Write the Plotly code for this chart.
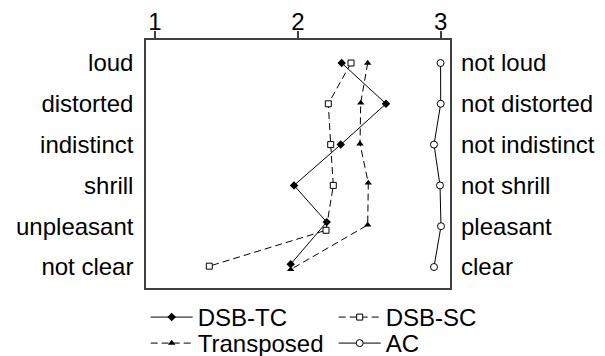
import plotly.graph_objects as go

left_labels = ["loud", "distorted", "indistinct", "shrill", "unpleasant", "not clear"]
right_labels = ["not loud", "not distorted", "not indistinct", "not shrill", "pleasant", "clear"]
x_ticks = [1, 2, 3]

dsb_tc_x = [2.307, 2.617, 2.300, 1.973, 2.202, 1.950]
dsb_tc_y = [0, 1, 2, 3, 3.9, 4.93]
dsb_sc_x = [2.372, 2.213, 2.230, 2.248, 2.197, 1.380]
dsb_sc_y = [0, 1, 2, 3, 4.1, 4.98]
trans_x = [2.489, 2.440, 2.435, 2.493, 2.489, 1.950]
trans_y = [0, 0.98, 1.98, 2.94, 3.97, 5.06]
ac_x = [2.999, 3.000, 2.953, 2.995, 3.002, 2.953]
ac_y = [0, 1, 2, 3, 4.0, 5.0]

FONT = "Liberation Sans, Arial, sans-serif"
FS = 24
line_kw = dict(color="black", width=1)
DASH = "7px,4px"

fig = go.Figure()
fig.add_trace(go.Scatter(x=dsb_tc_x, y=dsb_tc_y, name="DSB-TC", mode="lines+markers",
                         line=dict(**line_kw), legend="legend",
                         marker=dict(symbol="diamond", size=6.5, color="black")))
fig.add_trace(go.Scatter(x=dsb_sc_x, y=dsb_sc_y, name="DSB-SC", mode="lines+markers",
                         line=dict(dash=DASH, **line_kw), legend="legend",
                         marker=dict(symbol="square", size=6, color="white",
                                     line=dict(color="black", width=1))))
fig.add_trace(go.Scatter(x=trans_x, y=trans_y, name="Transposed", mode="lines+markers",
                         line=dict(dash=DASH, **line_kw), legend="legend2",
                         marker=dict(symbol="triangle-up", size=6.5, color="black")))
fig.add_trace(go.Scatter(x=ac_x, y=ac_y, name="AC", mode="lines+markers",
                         line=dict(**line_kw), legend="legend2", yaxis="y2",
                         marker=dict(symbol="circle", size=7, color="white",
                                     line=dict(color="black", width=1))))

yrange = [5.515, -0.564]
frame = "#404040"
leg_common = dict(orientation="h", xref="paper", x=-0.001, xanchor="left",
                  yref="paper", yanchor="top", entrywidth=131,
                  itemwidth=42, font=dict(size=FS),
                  bgcolor="rgba(0,0,0,0)", tracegroupgap=0)
fig.update_layout(
    template="none",
    width=605, height=356,
    margin=dict(l=146, r=155, t=40, b=68, autoexpand=False),
    paper_bgcolor="white", plot_bgcolor="white",
    font=dict(family=FONT, size=FS, color="black"),
    xaxis=dict(range=[0.937, 3.065], side="top", tickvals=x_ticks,
               ticktext=[str(v) for v in x_ticks], automargin=False,
               ticks="outside", ticklen=7, tickwidth=1.5, tickcolor=frame,
               ticklabelstandoff=-8,
               showgrid=False, zeroline=False, showline=True, mirror=True,
               linecolor=frame, linewidth=1.5, tickfont=dict(size=FS)),
    yaxis=dict(range=yrange, tickvals=list(range(6)), ticktext=left_labels,
               ticks="", showgrid=False, zeroline=False, showline=True, mirror=True,
               linecolor=frame, linewidth=1.5, automargin=False, ticklabelstandoff=6),
    yaxis2=dict(range=yrange, overlaying="y", side="right", tickvals=list(range(6)),
                ticktext=right_labels, ticks="", showgrid=False, zeroline=False,
                showline=False, automargin=False, ticklabelstandoff=10),
    showlegend=True,
    legend=dict(y=-0.0282, **leg_common),
    legend2=dict(y=-0.133, **leg_common),
)

fig.write_html("out.html", config={"displayModeBar": False},
               post_script="document.body.style.margin='0';document.body.style.overflow='hidden';")
